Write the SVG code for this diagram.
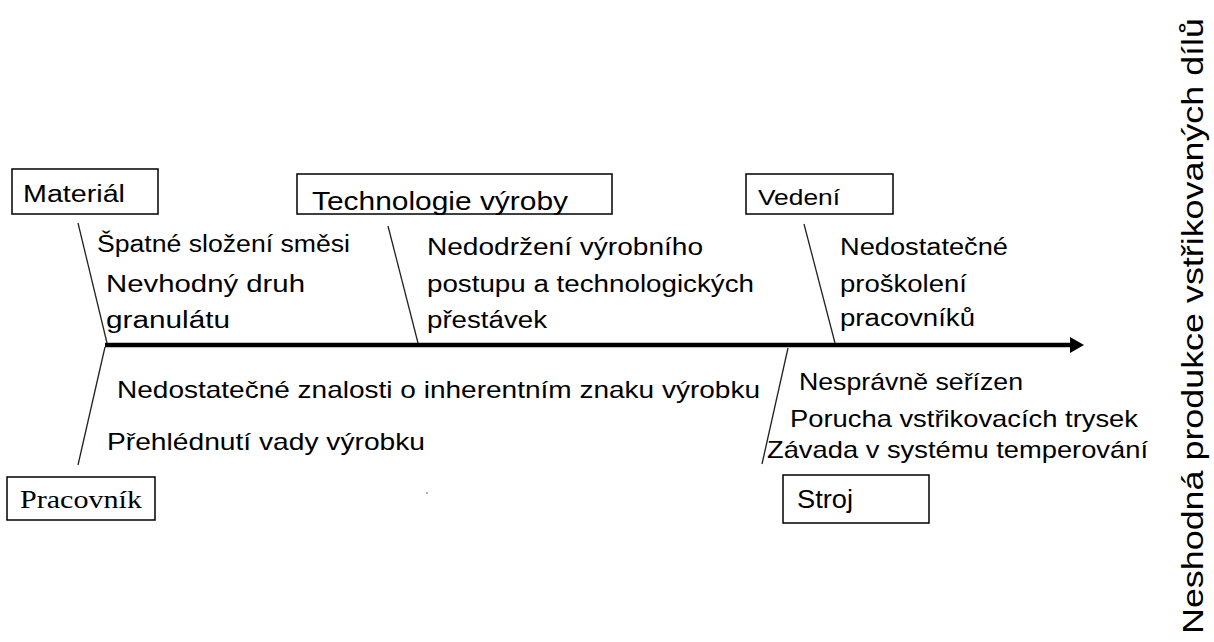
<svg xmlns="http://www.w3.org/2000/svg" width="1214" height="642" viewBox="0 0 1214 642">
<style>
.box{fill:#fff;stroke:#000;stroke-width:1.5}
.t{font-family:"Liberation Sans",Arial,sans-serif;fill:#000}
.s{font-family:"Liberation Serif","Times New Roman",serif;fill:#000}
.br{stroke:#222;stroke-width:1.3;fill:none}
</style>
<defs>
<marker id="ah" viewBox="0 0 14 16" refX="0" refY="8" markerWidth="14" markerHeight="16" markerUnits="userSpaceOnUse" orient="auto">
<path d="M0,0 L14,8 L0,16 Z" fill="#000"/>
</marker>
</defs>
<g id="connectors">
<line x1="105" y1="345" x2="1070" y2="345" stroke="#000" stroke-width="4.5" marker-end="url(#ah)"/>
<line class="br" x1="78" y1="223" x2="107" y2="343"/>
<line class="br" x1="388" y1="226" x2="418" y2="343"/>
<line class="br" x1="804" y1="224" x2="835" y2="343"/>
<line class="br" x1="105" y1="347" x2="78" y2="465"/>
<line class="br" x1="788" y1="348" x2="762" y2="464"/>
</g>
<g id="material">
<rect class="box" x="12" y="169" width="146" height="45"/>
<text class="t" x="23" y="202" font-size="23" textLength="102" lengthAdjust="spacingAndGlyphs">Materiál</text>
<text class="t" x="97" y="252" font-size="23" textLength="253" lengthAdjust="spacingAndGlyphs">Špatné složení směsi</text>
<text class="t" x="106" y="292" font-size="23" textLength="199" lengthAdjust="spacingAndGlyphs">Nevhodný druh</text>
<text class="t" x="106" y="328" font-size="23" textLength="124" lengthAdjust="spacingAndGlyphs">granulátu</text>
</g>
<g id="technologie">
<rect class="box" x="297" y="174" width="315" height="40"/>
<text class="t" x="312" y="210" font-size="26" textLength="256" lengthAdjust="spacingAndGlyphs">Technologie výroby</text>
<text class="t" x="427" y="255" font-size="23" textLength="276" lengthAdjust="spacingAndGlyphs">Nedodržení výrobního</text>
<text class="t" x="427" y="292" font-size="23" textLength="327" lengthAdjust="spacingAndGlyphs">postupu a technologických</text>
<text class="t" x="427" y="328" font-size="23" textLength="120" lengthAdjust="spacingAndGlyphs">přestávek</text>
</g>
<g id="vedeni">
<rect class="box" x="746" y="174" width="147" height="40"/>
<text class="t" x="758" y="205" font-size="22" textLength="82" lengthAdjust="spacingAndGlyphs">Vedení</text>
<text class="t" x="840" y="255" font-size="23" textLength="168" lengthAdjust="spacingAndGlyphs">Nedostatečné</text>
<text class="t" x="840" y="292" font-size="23" textLength="127" lengthAdjust="spacingAndGlyphs">proškolení</text>
<text class="t" x="840" y="326" font-size="23" textLength="135" lengthAdjust="spacingAndGlyphs">pracovníků</text>
</g>
<g id="pracovnik">
<rect class="box" x="7" y="477" width="148" height="43"/>
<text class="s" x="20" y="508" font-size="25" textLength="122" lengthAdjust="spacingAndGlyphs">Pracovník</text>
<text class="t" x="117" y="398" font-size="24" textLength="643" lengthAdjust="spacingAndGlyphs">Nedostatečné znalosti o inherentním znaku výrobku</text>
<text class="t" x="107" y="450" font-size="24" textLength="318" lengthAdjust="spacingAndGlyphs">Přehlédnutí vady výrobku</text>
</g>
<g id="stroj">
<rect class="box" x="783" y="475" width="146" height="48"/>
<text class="t" x="797" y="508" font-size="25" textLength="56" lengthAdjust="spacingAndGlyphs">Stroj</text>
<text class="t" x="799" y="390" font-size="24" textLength="224" lengthAdjust="spacingAndGlyphs">Nesprávně seřízen</text>
<text class="t" x="790" y="427" font-size="24" textLength="348" lengthAdjust="spacingAndGlyphs">Porucha vstřikovacích trysek</text>
<text class="t" x="767" y="458" font-size="24" textLength="381" lengthAdjust="spacingAndGlyphs">Závada v systému temperování</text>
</g>
<g id="effect">
<text class="t" transform="translate(1203,634) rotate(-90)" x="0" y="0" font-size="29" textLength="616" lengthAdjust="spacingAndGlyphs">Neshodná produkce vstřikovaných dílů</text>
</g>
<circle cx="427" cy="493" r="0.8" fill="#555"/>
</svg>
